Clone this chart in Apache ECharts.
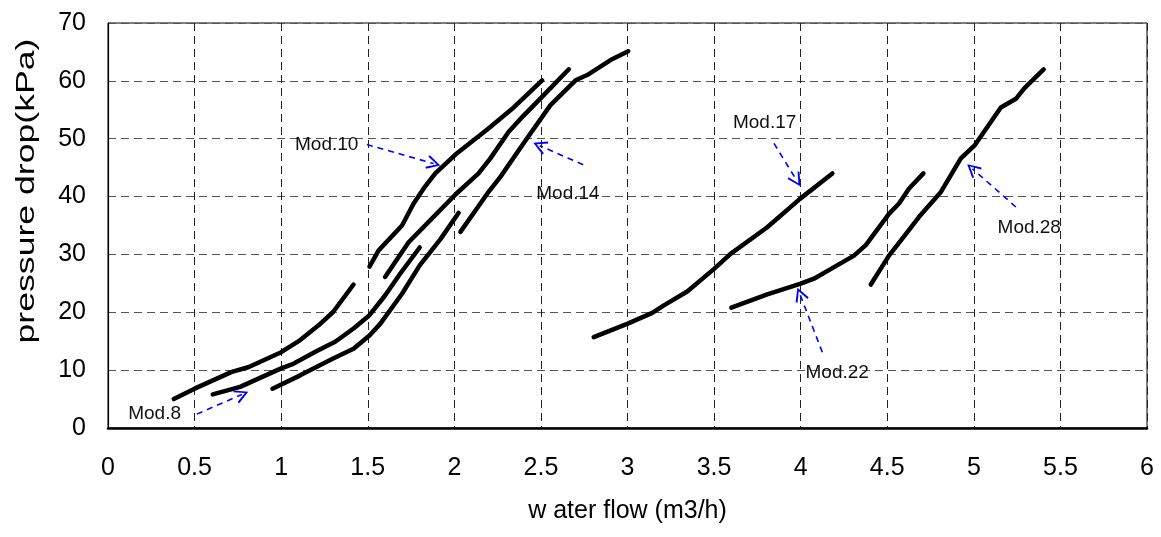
<!doctype html>
<html>

<head>
	<meta charset="utf-8">
	<title></title>
	<script type="text/javascript" src="https://cdn.jsdelivr.net/npm/echarts@6/dist/echarts.min.js"></script>
</head>

<body style="margin:0">
	<div id="main" style="width: 1161px;height:537px;"></div>
	<script type="text/javascript">
		// [water flow m3/h, pressure drop kPa]
		var curve1 = [[0.38, 5.0], [0.5, 6.8], [0.715, 9.7], [0.81, 10.5], [1.0, 13.1], [1.11, 15.2], [1.216, 17.75], [1.30, 20.05], [1.418, 24.8]];
		var curve2 = [[0.605, 5.8], [0.763, 7.1], [1.0, 10.3], [1.07, 11.1], [1.206, 13.3], [1.312, 14.9], [1.418, 17.2], [1.51, 19.5], [1.60, 22.9], [1.688, 26.7], [1.80, 31.2]];
		var curve3 = [[0.95, 6.8], [1.11, 9.1], [1.30, 12.0], [1.418, 13.7], [1.51, 16.0], [1.572, 18.0], [1.698, 23.2], [1.80, 28.1], [1.919, 32.6], [2.025, 37.2]];
		var curve4 = [[1.51, 27.9], [1.563, 30.7], [1.698, 35.0], [1.765, 38.8], [1.823, 41.4], [1.89, 44.0], [2.008, 47.3], [2.19, 51.6], [2.343, 55.4], [2.507, 60.1]];
		var curve5 = [[1.60, 26.1], [1.736, 32.1], [1.88, 36.5], [2.008, 40.4], [2.14, 44.0], [2.208, 46.6], [2.314, 51.2], [2.40, 54.0], [2.505, 57.2], [2.661, 62.0]];
		var curve6 = [[2.035, 33.9], [2.19, 40.5], [2.266, 43.4], [2.40, 49.2], [2.555, 55.8], [2.70, 60.1], [2.767, 61.0], [2.902, 63.6], [3.004, 65.1]];
		var curve7 = [[2.805, 15.7], [2.998, 18.0], [3.143, 19.9], [3.21, 21.2], [3.345, 23.6], [3.50, 27.5], [3.595, 30.1], [3.807, 34.7], [3.996, 39.6], [4.183, 44.0]];
		var curve8 = [[3.60, 20.8], [3.807, 23.1], [3.996, 24.9], [4.077, 25.8], [4.193, 27.8], [4.308, 29.8], [4.376, 31.6], [4.51, 37.0], [4.568, 38.8], [4.626, 41.4], [4.709, 44.0]];
		var curve9 = [[4.405, 24.8], [4.51, 29.8], [4.578, 32.4], [4.684, 36.5], [4.81, 40.8], [4.925, 46.6], [5.006, 48.9], [5.156, 55.4], [5.243, 56.9], [5.291, 58.7], [5.403, 62.0]];
		var curves = [curve1, curve2, curve3, curve4, curve5, curve6, curve7, curve8, curve9];

		// annotation labels and their arrows (tail -> head), in axis units
		var labelNames = ['Mod.8', 'Mod.10', 'Mod.14', 'Mod.17', 'Mod.22', 'Mod.28'];
		var labelPos = [[0.269, 2.4], [1.263, 49.0], [2.656, 40.5], [3.792, 52.75], [4.211, 9.54], [5.32, 34.6]];
		var arrowTail = [[0.513, 2.4], [1.495, 49.0], [2.744, 45.5], [3.846, 49.2], [4.125, 13.1], [5.243, 38.2]];
		var arrowHead = [[0.773, 5.8], [1.88, 45.7], [2.493, 48.8], [3.977, 42.8], [3.996, 23.1], [4.992, 44.8]];

		var font = 'Liberation Sans, Arial, sans-serif';
		var chevron = 'path://M10,0 L20,14 L17.6,15.2 L10,4 L2.4,15.2 L0,14 Z';

		var myChart = echarts.init(document.getElementById('main'));

		var series = curves.map(function (c, i) {
			return {
				name: 'curve' + (i + 1),
				type: 'line',
				data: c,
				showSymbol: false,
				symbol: 'none',
				silent: true,
				lineStyle: { color: '#000', width: 4.5, cap: 'round', join: 'round' }
			};
		});

		series[0].markLine = {
			silent: true,
			symbol: ['none', chevron],
			symbolSize: 14,
			label: { show: false },
			lineStyle: { color: '#0000ff', width: 1.6, type: [6, 5] },
			data: arrowTail.map(function (t, i) {
				return [{ coord: t }, { coord: arrowHead[i] }];
			})
		};
		series[0].markPoint = {
			silent: true,
			symbol: 'rect',
			symbolSize: 1,
			itemStyle: { color: 'rgba(0,0,0,0)' },
			label: {
				show: true, position: 'inside', formatter: '{b}',
				color: '#111', fontSize: 19, fontFamily: font
			},
			data: labelNames.map(function (n, i) {
				return { name: n, coord: labelPos[i] };
			})
		};

		option = {
			animation: false,
			grid: {
				left: 108, right: 14, top: 23, bottom: 109,
				show: true, borderColor: '#000', borderWidth: 1
			},
			xAxis: {
				type: 'value', min: 0, max: 6, interval: 0.5,
				name: 'w ater flow (m3/h)', nameLocation: 'middle', nameGap: 71,
				nameTextStyle: { color: '#000', fontSize: 25, fontFamily: font },
				axisLine: { show: true, onZero: false, lineStyle: { color: '#000', width: 2.5 } },
				axisTick: { show: false },
				axisLabel: { color: '#000', fontSize: 25, fontFamily: font, margin: 28 },
				splitLine: { show: true, lineStyle: { color: '#222', width: 1, type: [8, 5] } }
			},
			yAxis: {
				type: 'value', min: 0, max: 70, interval: 10,
				axisLine: { show: true, lineStyle: { color: '#000', width: 1.2 } },
				axisTick: { show: false },
				axisLabel: { color: '#000', fontSize: 25, fontFamily: font, margin: 22 },
				splitLine: { show: true, lineStyle: { color: '#555', width: 1, type: [8, 5] } }
			},
			graphic: [{
				type: 'text',
				x: 27, y: 191,
				rotation: Math.PI / 2,
				scaleX: 1.37,
				style: {
					text: 'pressure drop(kPa)',
					fill: '#000',
					font: '26px ' + font,
					align: 'center', verticalAlign: 'middle',
					textAlign: 'center', textVerticalAlign: 'middle'
				}
			}],
			series: series
		};

		myChart.setOption(option);
	</script>
</body>

</html>
